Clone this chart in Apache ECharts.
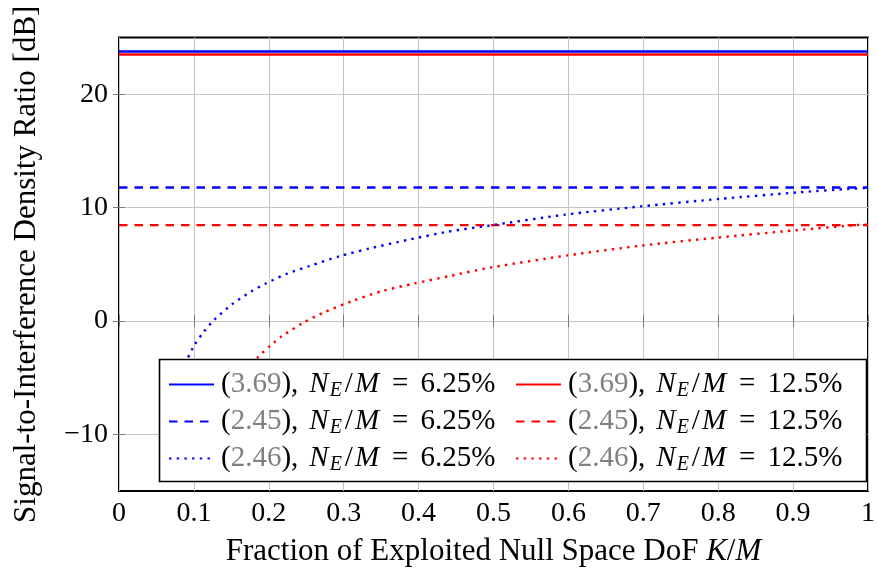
<!DOCTYPE html>
<html>
<head>
<meta charset="utf-8">
<script src="https://cdn.jsdelivr.net/npm/echarts@6/dist/echarts.min.js"></script>
<style>html,body{margin:0;padding:0;background:#fff}#c{width:878px;height:574px}</style>
</head>
<body>
<div id="c"></div>
<script>
// ---- data ----
var xTicks = [0, 0.1, 0.2, 0.3, 0.4, 0.5, 0.6, 0.7, 0.8, 0.9, 1];
var yTicks = [-10, 0, 10, 20];
var codeLabels = ['3.69', '2.45', '2.46'];
var ratioLabels = ['6.25%', '12.5%'];

var blueSolid = 23.77;
var redSolid = 23.5;
var blueDashed = 11.77;
var redDashed = 8.45;

var blueDotX = [0.0665, 0.07, 0.075, 0.08, 0.085, 0.091, 0.101, 0.113, 0.127, 0.151, 0.177, 0.196, 0.224, 0.254, 0.295, 0.335, 0.387, 0.44, 0.493, 0.596, 0.697, 0.803, 0.909, 0.975, 1.0];
var blueDotY = [-12.5, -9.3, -7.0, -5.5, -4.45, -3.39, -2.1, -0.97, 0.09, 1.47, 2.62, 3.3, 4.16, 4.84, 5.72, 6.4, 7.17, 7.88, 8.4, 9.38, 10.1, 10.77, 11.35, 11.65, 11.72];

var redDotX = [0.133, 0.137, 0.145, 0.16, 0.175, 0.186, 0.202, 0.218, 0.245, 0.273, 0.312, 0.352, 0.394, 0.444, 0.497, 0.599, 0.697, 0.799, 0.904, 0.988, 1.0];
var redDotY = [-12.0, -10.3, -7.9, -5.5, -3.93, -3.16, -2.18, -1.33, -0.2, 0.74, 1.77, 2.65, 3.3, 4.0, 4.72, 5.78, 6.64, 7.35, 8.0, 8.47, 8.5];

// ---- build ----
var FONT = 'Liberation Serif';
function pairs(xs, ys) { return xs.map(function (x, i) { return [x, ys[i]]; }); }
function flat(v) { return [[0, v], [1, v]]; }
function nm(ci, ri) { return '(' + codeLabels[ci] + '), N_E/M = ' + ratioLabels[ri]; }

var BLUE = '#0000ff', RED = '#ff0000';
var dashType = [8.5, 7];
var dotType = [2.4, 5.3];

var seriesDefs = [
  { name: nm(0, 0), data: flat(blueSolid), color: BLUE, type: 'solid' },
  { name: nm(0, 1), data: flat(redSolid), color: RED, type: 'solid' },
  { name: nm(1, 0), data: flat(blueDashed), color: BLUE, type: dashType },
  { name: nm(1, 1), data: flat(redDashed), color: RED, type: dashType },
  { name: nm(2, 0), data: pairs(blueDotX, blueDotY), color: BLUE, type: dotType },
  { name: nm(2, 1), data: pairs(redDotX, redDotY), color: RED, type: dotType }
];

var series = seriesDefs.map(function (d) {
  return {
    name: d.name, type: 'line', data: d.data, showSymbol: false, symbol: 'none',
    smooth: d.data.length > 2 ? 0.25 : false,
    color: d.color,
    lineStyle: { color: d.color, width: 2.4, type: d.type },
    xAxisIndex: 0, yAxisIndex: 0,
    z: 2, animation: false
  };
});

var legendMap = {};
codeLabels.forEach(function (c, ci) {
  ratioLabels.forEach(function (r, ri) {
    legendMap[nm(ci, ri)] = '{p0|(}{g|' + c + '}{pc|),}{i|N}{s|E}{sl|/}{i|M}{eq|=}{p|' + r + '}';
  });
});

var LF = 29;
var legendRich = {
  p0: { fontFamily: FONT, fontSize: LF, color: '#000', lineHeight: 28, padding: [0, 0, 0, 2] },
  p: { fontFamily: FONT, fontSize: LF, color: '#000', lineHeight: 28 },
  pc: { fontFamily: FONT, fontSize: LF, color: '#000', lineHeight: 28, padding: [0, 10, 0, 0] },
  g: { fontFamily: FONT, fontSize: LF, color: '#808080', lineHeight: 28 },
  i: { fontFamily: FONT, fontSize: LF, color: '#000', fontStyle: 'italic', lineHeight: 28, padding: [0, 1, 0, 1] },
  s: { fontFamily: FONT, fontSize: 20, color: '#000', fontStyle: 'italic', padding: [13, 2, 0, 0], lineHeight: 28 },
  sl: { fontFamily: FONT, fontSize: LF, color: '#000', lineHeight: 28, padding: [0, 1, 0, 1] },
  eq: { fontFamily: FONT, fontSize: LF, color: '#000', lineHeight: 28, padding: [0, 12, 0, 12] }
};

function legendFor(names, left) {
  return {
    left: left, top: 368, orient: 'vertical',
    padding: 0,
    itemWidth: 45, itemHeight: 20, itemGap: 4,
    itemStyle: { opacity: 0 },
    data: names,
    formatter: function (name) { return legendMap[name]; },
    textStyle: { fontFamily: FONT, fontSize: LF, color: '#000', rich: legendRich },
    z: 10, selectedMode: false
  };
}

var axisTickStyle = { show: true, inside: true, length: 6, lineStyle: { color: '#7a7a7a', width: 1 } };

var chart = echarts.init(document.getElementById('c'), null, { renderer: 'canvas' });
chart.setOption({
  animation: false,
  backgroundColor: '#fff',
  grid: { left: 119, top: 37.5, right: 2, bottom: 83, show: true, borderColor: '#000', borderWidth: 2, backgroundColor: 'transparent' },
  xAxis: [{
    type: 'value', min: 0, max: 1, interval: 0.1,
    axisLine: { show: false },
    axisTick: axisTickStyle,
    splitLine: { show: true, lineStyle: { color: '#c4c4c4', width: 1 } },
    axisLabel: { color: '#000', fontFamily: FONT, fontSize: 28, margin: 9,
      formatter: function (v) { var t = Math.round(v * 10) / 10; return xTicks.indexOf(t) >= 0 ? String(t) : ''; } },
    name: 'Fraction of Exploited Null Space DoF {it|K}/{it|M}',
    nameLocation: 'middle', nameGap: 45,
    nameTextStyle: { color: '#000', fontFamily: FONT, fontSize: 31,
      rich: { it: { fontFamily: FONT, fontSize: 31, fontStyle: 'italic', color: '#000' } } }
  }, {
    type: 'value', min: 0, max: 1, interval: 0.1, position: 'top',
    axisLine: { show: false }, axisTick: axisTickStyle, axisLabel: { show: false }, splitLine: { show: false }
  }],
  yAxis: [{
    type: 'value', min: -15, max: 25,
    axisLine: { show: false },
    axisTick: Object.assign({ customValues: yTicks }, axisTickStyle),
    splitLine: { show: true, lineStyle: { color: '#c4c4c4', width: 1 } },
    axisLabel: { color: '#000', fontFamily: FONT, fontSize: 28, margin: 11, customValues: yTicks,
      formatter: function (v) { return v < 0 ? '\u2212' + Math.abs(v) : String(v); } },
    name: 'Signal-to-Interference Density Ratio [dB]',
    nameLocation: 'middle', nameGap: 77,
    nameTextStyle: { color: '#000', fontFamily: FONT, fontSize: 31, padding: [0, 0, 0, 0] }
  }, {
    type: 'value', min: -15, max: 25, position: 'right',
    axisLine: { show: false },
    axisTick: Object.assign({ customValues: yTicks }, axisTickStyle),
    axisLabel: { show: false }, splitLine: { show: false }
  }],
  graphic: [{
    type: 'rect', z: 5, silent: true,
    shape: { x: 159.5, y: 359.5, width: 707, height: 122 },
    style: { fill: '#fff', stroke: '#000', lineWidth: 1.6 }
  }],
  legend: [
    legendFor([seriesDefs[0].name, seriesDefs[2].name, seriesDefs[4].name], 168),
    legendFor([seriesDefs[1].name, seriesDefs[3].name, seriesDefs[5].name], 515)
  ],
  series: series
});
</script>
</body>
</html>
